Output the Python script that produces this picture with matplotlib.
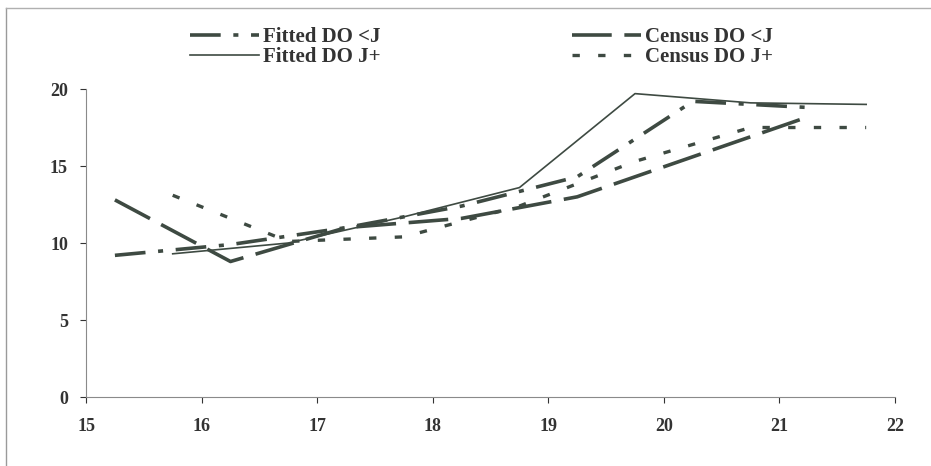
import matplotlib
matplotlib.use("Agg")
import matplotlib.pyplot as plt
from matplotlib.lines import Line2D

# age points: before-January series sit at x.25, January-on series at x.75
ages_before_j = [15.25, 16.25, 17.25, 18.25, 19.25, 20.25, 21.25]
ages_after_j = [15.75, 16.75, 17.75, 18.75, 19.75, 20.75, 21.75]

fitted_do_before_j = [9.2, 9.9, 11.0, 12.4, 14.3, 19.2, 18.8]
census_do_before_j = [12.8, 8.8, 11.0, 11.6, 13.0, 15.6, 18.2]
fitted_do_after_j = [9.3, 10.0, 11.7, 13.6, 19.7, 19.1, 19.0]
census_do_after_j = [13.1, 10.1, 10.4, 12.4, 15.3, 17.5, 17.5]

x_ticks = [15, 16, 17, 18, 19, 20, 21, 22]
y_ticks = [0, 5, 10, 15, 20]

plt.rcParams['font.family'] = ['Liberation Serif', 'DejaVu Serif']
plt.rcParams['font.weight'] = 'bold'

farbe = '#3e4a42'
text_farbe = '#333333'

fig = plt.figure(figsize=(9.31, 4.66), dpi=100)
ax = fig.add_axes([0.0924, 0.148, 0.869, 0.661])

ax.plot(ages_before_j, fitted_do_before_j, color=farbe, lw=2.6,
        dashes=(8.5, 3.5, 1.4, 3.5), label='Fitted DO <J')
ax.plot(ages_after_j, fitted_do_after_j, color=farbe, lw=1.2,
        label='Fitted DO J+')
ax.plot(ages_before_j, census_do_before_j, color=farbe, lw=2.6,
        dashes=(11, 3.5), label='Census DO <J')
ax.plot(ages_after_j, census_do_after_j, color=farbe, lw=2.4,
        dashes=(2.2, 5.5), label='Census DO J+')

ax.set_xlim(15, 22)
ax.set_ylim(0, 20)
ax.set_xticks(x_ticks)
ax.set_yticks(y_ticks)
ax.tick_params(axis='both', labelsize=13, colors=text_farbe, length=4,
               width=0.8)
ax.tick_params(axis='y', pad=9)
ax.tick_params(axis='x', pad=11)
for lab in ax.get_xticklabels() + ax.get_yticklabels():
    lab.set_fontweight('bold')

for s in ['top', 'right']:
    ax.spines[s].set_visible(False)
for s in ['left', 'bottom']:
    ax.spines[s].set_color('#8a8a8a')
    ax.spines[s].set_linewidth(0.8)

leg = ax.legend(loc='upper left', bbox_to_anchor=(190 / 931, 1 - 27 / 466),
                bbox_transform=fig.transFigure, ncol=2, frameon=False,
                handlelength=3.3, handletextpad=0.2, columnspacing=9.2,
                labelspacing=0.0, borderpad=0, borderaxespad=0,
                prop={'weight': 'bold', 'size': 15})
for t in leg.get_texts():
    t.set_color(text_farbe)

# thin frame lines along the left and top of the chart area
fig.add_artist(Line2D([6 / 931, 6 / 931], [0, 1 - 8 / 466],
                      transform=fig.transFigure, color='#9a9a9a', lw=1.0))
fig.add_artist(Line2D([6 / 931, 1], [1 - 8 / 466, 1 - 8 / 466],
                      transform=fig.transFigure, color='#b0b0b0', lw=1.0))

plt.savefig('out.png', dpi=100)
